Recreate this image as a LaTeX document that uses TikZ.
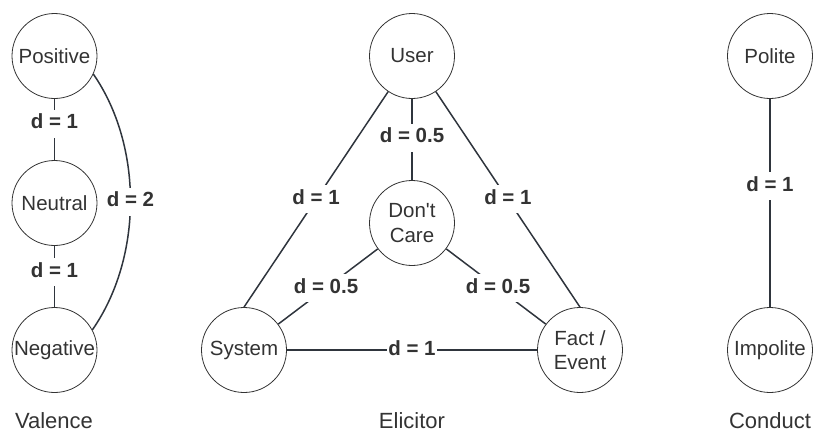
\documentclass[tikz,border=0pt]{standalone}
\usepackage{fontspec}
\setmainfont{Liberation Sans}
\definecolor{ink}{HTML}{333333}
\definecolor{wire}{HTML}{2F353D}
\tikzset{
  state/.style={circle, draw=ink, line width=0.8pt, minimum size=85pt, inner sep=0pt,
    align=center, text=ink, font=\fontsize{20.5}{24.6}\selectfont},
  dist/.style={fill=white, text=ink, font=\fontsize{20.5}{24.6}\selectfont\bfseries,
    inner xsep=1pt, inner ysep=4pt, text height=15pt, text depth=5pt},
  link/.style={draw=wire, line width=1.5pt},
  title/.style={text=ink, font=\fontsize{22}{26}\selectfont}
}
\begin{document}
\begin{tikzpicture}[x=1pt, y=-1pt]
            \useasboundingbox (0,0) rectangle (815,432);
            \node [state] (positive) at (54.5,56) {Positive};
            \node [state] (neutral) at (54.5,203) {Neutral};
            \node [state] (negative) at (54.5,350) {Negative};
            \node [title] (valence) at (54,421) {Valence};
            \draw [link] (positive) -- node [dist, pos=0.41] {d = 1} (neutral);
            \draw [link] (neutral) -- node [dist, pos=0.43] {d = 1} (negative);
            \draw [link] (positive.-25) .. controls (143,146) and (143,257) .. node [dist] {d = 2} (negative.28);
            \node [state] (user) at (412,56) {User};
            \node [state] (dontcare) at (412,223) {Don\textquotesingle t\\Care};
            \node [state] (system) at (244,350) {System};
            \node [state] (fact) at (580,350) {Fact /\\Event};
            \node [title] (elicitor) at (412,421) {Elicitor};
            \draw [link] (user) -- node [dist, pos=0.48] {d = 0.5} (dontcare);
            \draw [link] (user) -- node [dist] {d = 1} (system.north);
            \draw [link] (user) -- node [dist] {d = 1} (fact.north);
            \draw [link] (dontcare) -- node [dist, pos=0.52] {d = 0.5} (system);
            \draw [link] (dontcare) -- node [dist, pos=0.52] {d = 0.5} (fact);
            \draw [link] (system) -- node [dist, inner ysep=1pt] {d = 1} (fact);
            \node [state] (polite) at (770,56) {Polite};
            \node [state] (impolite) at (770,350) {Impolite};
            \node [title] (conduct) at (770,421) {Conduct};
            \draw [link] (polite) -- node [dist, pos=0.42] {d = 1} (impolite);
\end{tikzpicture}
\end{document}
